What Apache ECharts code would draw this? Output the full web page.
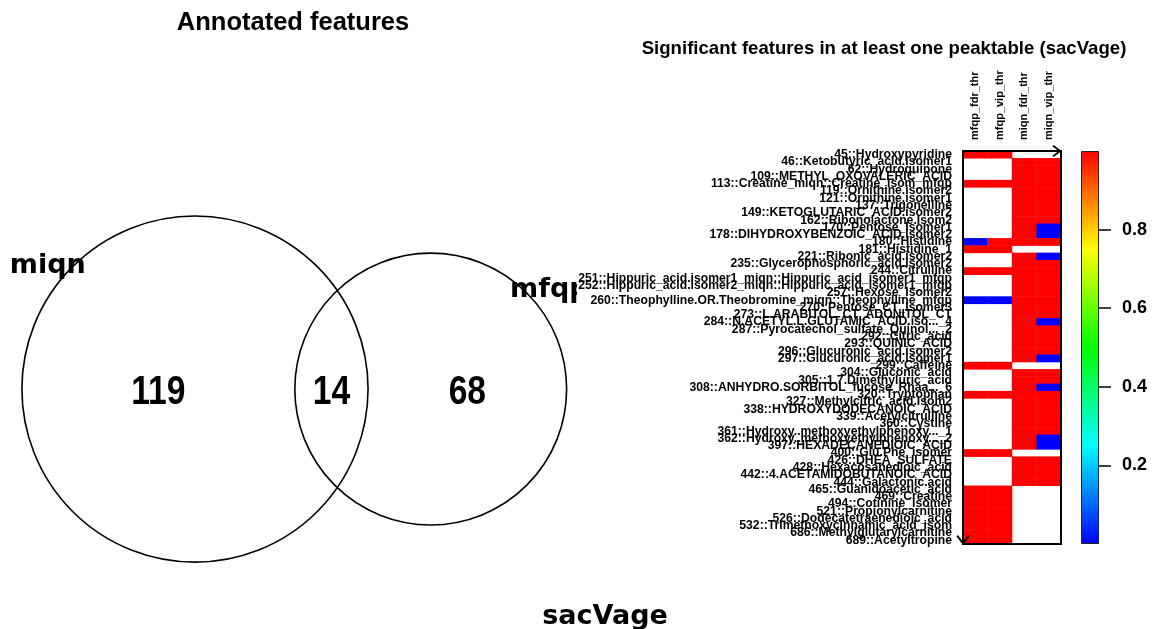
<!DOCTYPE html>
<html>
<head>
<meta charset="utf-8">
<script src="https://cdn.jsdelivr.net/npm/echarts@6/dist/echarts.min.js"></script>
<style>
html, body { margin: 0; padding: 0; background: #fff; }
#chart { width: 1154px; height: 629px; }
</style>
</head>
<body>
<div id="chart"></div>
<script>
// annotated features per peaktable (venn)
const vennSets = ['miqn', 'mfqp'];
const vennOnly = [119, 68];
const vennBoth = 14;

// significant features in at least one peaktable (heatmap rows, top to bottom)
const featureNames = [
  '45::Hydroxypyridine', '46::Ketobutyric_acid.isomer1', '62::Hydroquinone', '109::METHYL_OXOVALERIC_ACID',
  '113::Creatine_miqn::Creatine_isom_mfqp', '119::Ornithine.isomer2', '121::Ornithine.isomer1', '137::Trigonelline',
  '149::KETOGLUTARIC_ACID.isomer2', '162::Ribonolactone.Isom2', '170::Pentose_Isomer1', '178::DIHYDROXYBENZOIC_ACID.isomer2',
  '180::Histidine', '181::Histidine_1', '221::Ribonic_acid.isomer2', '235::Glycerophosphoric_acid.isomer2',
  '244::Citrulline', '251::Hippuric_acid.isomer1_miqn::Hippuric_acid_isomer1_mfqp',
  '252::Hippuric_acid.isomer2_miqn::Hippuric_acid_isomer1_mfqp', '257::Hexose_Isomer2',
  '260::Theophylline.OR.Theobromine_miqn::Theophylline_mfqp', '270::Pentose_CT_Isomer3', '273::L.ARABITOL_CT_ADONITOL_CT',
  '284::N.ACETYL.L.GLUTAMIC_ACID.iso..._4', '287::Pyrocatechol_sulfate_Quinol..._2', '292::Citric_acid', '293::QUINIC_ACID',
  '296::Glucuronic_acid.isomer2', '297::Glucuronic_acid.isomer1', '299::Caffeine', '304::Gluconic_acid',
  '305::1.7.Dimethyluric_acid', '308::ANHYDRO.SORBITOL_fucose_Rhaa..._6', '320::Tryptophan', '327::Methylcitric_acid.Isom2',
  '338::HYDROXYDODECANOIC_ACID', '339::Acetylcitrulline', '360::Cystine', '361::Hydroxy..methoxyethylphenoxy..._1',
  '362::Hydroxy..methoxyethylphenoxy..._2', '397::HEXADECANEDIOIC_ACID', '400::Glu.Phe_isomer', '426::DHEA_SULFATE',
  '428::Hexacosanedioic_acid', '442::4.ACETAMIDOBUTANOIC_ACID', '444::Galactonic.acid', '465::Guanidoacetic_acid',
  '469::Creatine', '494::Cotinine_isomer', '521::Propionylcarnitine', '526::Dodecatetraenedioic_acid',
  '532::Trimethoxycinnamic_acid_isom', '686::Methylglutarylcarnitine', '689::Acetyltropine'
];
const thrColumns = ['mfqp_fdr_thr', 'mfqp_vip_thr', 'miqn_fdr_thr', 'miqn_vip_thr'];
const N = null;
const mfqpFdr = [
  1, N, N, N, 1, N, N, N, N, N,
  N, N, 0, 1, N, N, 1, N, N, N,
  0, N, N, N, N, N, N, N, N, 1,
  N, N, N, 1, N, N, N, N, N, N,
  N, 1, N, N, N, N, 1, 1, 1, 1,
  1, 1, 1, 1
];
const mfqpVip = [
  1, N, N, N, 1, N, N, N, N, N,
  N, N, 1, 1, N, N, 1, N, N, N,
  0, N, N, N, N, N, N, N, N, 1,
  N, N, N, 1, N, N, N, N, N, N,
  N, 1, N, N, N, N, 1, 1, 1, 1,
  1, 1, 1, 1
];
const miqnFdr = [
  N, 1, 1, 1, 1, 1, 1, 1, 1, 1,
  1, 1, 1, N, 1, 1, 1, 1, 1, 1,
  1, 1, 1, 1, 1, 1, 1, 1, 1, N,
  1, 1, 1, 1, 1, 1, 1, 1, 1, 1,
  1, N, 1, 1, 1, 1, N, N, N, N,
  N, N, N, N
];
const miqnVip = [
  N, 1, 1, 1, 1, 1, 1, 1, 1, 1,
  0, 0, 1, N, 0, 1, 1, 1, 1, 1,
  1, 1, 1, 0, 1, 1, 1, 1, 0, N,
  1, 1, 0, 1, 1, 1, 1, 1, 1, 0,
  0, N, 1, 1, 1, 1, N, N, N, N,
  N, N, N, N
];
const colorRamp = ['#0000ff', '#00ffff', '#00ff00', '#ffff00', '#ff0000'];
const legendTicks = [0.2, 0.4, 0.6, 0.8];

// layout of the venn panel
const PX_PER_UNIT = 26.6;
const VENN_W = 577, VENN_H = 629;
const VENN_CX = 7.33, VENN_CY = 9.02;

function lensArea(r1, r2, d) {
  if (d >= r1 + r2) return 0;
  if (d <= Math.abs(r1 - r2)) return Math.PI * Math.min(r1, r2) ** 2;
  const a1 = Math.acos((d * d + r1 * r1 - r2 * r2) / (2 * d * r1));
  const a2 = Math.acos((d * d + r2 * r2 - r1 * r1) / (2 * d * r2));
  const k = Math.sqrt((-d + r1 + r2) * (d + r1 - r2) * (d - r1 + r2) * (d + r1 + r2));
  return r1 * r1 * a1 + r2 * r2 * a2 - k / 2;
}

const rA = Math.sqrt((vennOnly[0] + vennBoth) / Math.PI);
const rB = Math.sqrt((vennOnly[1] + vennBoth) / Math.PI);
let lo = Math.abs(rA - rB), hi = rA + rB;
for (let i = 0; i < 60; i++) {
  const mid = (lo + hi) / 2;
  if (lensArea(rA, rB, mid) > vennBoth) lo = mid; else hi = mid;
}
const dist = (lo + hi) / 2;
const cxB = VENN_CX + dist;

const vennCircles = [[VENN_CX, VENN_CY, rA, -1], [cxB, VENN_CY, rB, 1]];
const vennCounts = [
  [((VENN_CX - rA) + (cxB - rB)) / 2, VENN_CY, vennOnly[0]],
  [((VENN_CX + rA) + (cxB - rB)) / 2, VENN_CY, vennBoth],
  [((VENN_CX + rA) + (cxB + rB)) / 2, VENN_CY, vennOnly[1]]
];

// heatmap cells; y axis runs bottom-up so rows are flipped
const nRows = featureNames.length;
const heatData = [];
[mfqpFdr, mfqpVip, miqnFdr, miqnVip].forEach(function (col, c) {
  col.forEach(function (v, r) {
    if (v !== null) heatData.push([c, nRows - 1 - r, v]);
  });
});
const axisNames = featureNames.slice().reverse();

const chevron = 'path://M6.5,0 L13,8.6 L11.6,10 L6.5,3.2 L1.4,10 L0,8.6 Z';
const font = 'Liberation Sans';

const chart = echarts.init(document.getElementById('chart'));
chart.setOption({
  animation: false,
  backgroundColor: '#fff',
  title: [
    { text: 'Annotated features', left: 288, top: 5, textAlign: 'center',
      textStyle: { fontSize: 25.5, fontWeight: 'bold', color: '#000', fontFamily: font } },
    { text: 'Significant features in at least one peaktable (sacVage)', left: 879, top: 34, textAlign: 'center',
      textStyle: { fontSize: 18.6, fontWeight: 'bold', color: '#000', fontFamily: font } },
    { text: 'sacVage', left: 600, top: 598, textAlign: 'center',
      textStyle: { fontSize: 27, fontWeight: 'bold', color: '#000', fontFamily: 'DejaVu Sans' } }
  ],
  grid: [
    { left: 0, top: 0, width: VENN_W, height: VENN_H },
    { left: 963, top: 151, width: 98, height: 393 },
    { left: 1081, top: 151, width: 18, height: 393 }
  ],
  xAxis: [
    { gridIndex: 0, type: 'value', min: 0, max: VENN_W / PX_PER_UNIT, show: false },
    { gridIndex: 1, type: 'category', data: thrColumns, position: 'top', z: 5,
      axisLine: { show: true, symbol: ['none', chevron], symbolSize: [12, 10], symbolOffset: [0, -4],
        lineStyle: { color: '#000', width: 2 } },
      axisTick: { show: false }, splitLine: { show: false },
      axisLabel: { rotate: -90, margin: 11, fontSize: 11, fontWeight: 'bold', color: '#000', fontFamily: font, interval: 0 } },
    { gridIndex: 1, type: 'category', data: thrColumns, position: 'bottom', z: 5,
      axisLine: { show: true, lineStyle: { color: '#000', width: 2 } },
      axisTick: { show: false }, axisLabel: { show: false }, splitLine: { show: false } },
    { gridIndex: 2, type: 'category', data: [''], show: false }
  ],
  yAxis: [
    { gridIndex: 0, type: 'value', min: 0, max: VENN_H / PX_PER_UNIT, show: false },
    { gridIndex: 1, type: 'category', data: axisNames, position: 'left', z: 5,
      axisLine: { show: true, symbol: [chevron, 'none'], symbolSize: [13, 10], symbolOffset: [4, 0],
        lineStyle: { color: '#000', width: 2 } },
      axisTick: { show: false }, splitLine: { show: false },
      axisLabel: { interval: 0, margin: 11, fontSize: 12.2, fontWeight: 'bold', color: '#000', fontFamily: font } },
    { gridIndex: 1, type: 'category', data: axisNames, position: 'right', z: 5,
      axisLine: { show: true, lineStyle: { color: '#000', width: 2 } },
      axisTick: { show: false }, axisLabel: { show: false }, splitLine: { show: false } },
    { gridIndex: 2, type: 'value', min: 0, max: 1, position: 'right',
      axisLine: { show: false }, splitLine: { show: false },
      axisTick: { show: true, length: 12, customValues: legendTicks, lineStyle: { color: '#000', width: 1.5 } },
      axisLabel: { customValues: legendTicks, margin: 23, fontSize: 18, fontWeight: 'bold', color: '#000', fontFamily: font } }
  ],
  visualMap: {
    show: false, seriesIndex: 2, dimension: 2, min: 0, max: 1,
    inRange: { color: colorRamp }
  },
  series: [
    {
      type: 'custom', xAxisIndex: 0, yAxisIndex: 0, clip: true, silent: true,
      data: vennCircles,
      renderItem: function (params, api) {
        const c = api.coord([api.value(0), api.value(1)]);
        const r = api.size([api.value(2), 0])[0];
        const ang = api.value(3) * 50 * Math.PI / 180;
        const R = r + 19;
        return {
          type: 'group',
          children: [
            { type: 'circle', shape: { cx: c[0], cy: c[1], r: r },
              style: { fill: 'none', stroke: '#000', lineWidth: 1.6 } },
            { type: 'text', x: c[0] + Math.sin(ang) * R, y: c[1] - Math.cos(ang) * R,
              style: { text: vennSets[params.dataIndex], fill: '#000', fontSize: 27, fontWeight: 'bold',
                fontFamily: 'DejaVu Sans', align: 'center', verticalAlign: 'middle' } }
          ]
        };
      }
    },
    {
      type: 'custom', xAxisIndex: 0, yAxisIndex: 0, silent: true,
      data: vennCounts,
      renderItem: function (params, api) {
        const c = api.coord([api.value(0), api.value(1)]);
        return {
          type: 'text', x: c[0], y: c[1] + 4, scaleX: 0.82,
          style: { text: String(api.value(2)), fill: '#000', fontSize: 41, fontWeight: 'bold',
            fontFamily: font, align: 'center', verticalAlign: 'middle' }
        };
      }
    },
    {
      type: 'heatmap', xAxisIndex: 1, yAxisIndex: 1, data: heatData, silent: true,
      itemStyle: { borderWidth: 0 }
    },
    {
      type: 'bar', xAxisIndex: 3, yAxisIndex: 3, data: [1], barWidth: '100%', silent: true,
      itemStyle: {
        borderColor: '#222', borderWidth: 1,
        color: new echarts.graphic.LinearGradient(0, 1, 0, 0, colorRamp.map(function (col, i) {
          return { offset: i / (colorRamp.length - 1), color: col };
        }))
      }
    }
  ]
});
</script>
</body>
</html>
